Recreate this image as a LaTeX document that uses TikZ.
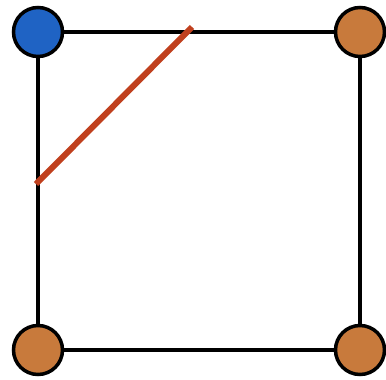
\documentclass[tikz,border=0pt]{standalone}
\definecolor{vblue}{RGB}{31,99,196}
\definecolor{vorange}{RGB}{200,122,60}
\definecolor{cutred}{RGB}{192,64,30}
\tikzset{vertex/.style={circle,draw=black,line width=3.5pt,minimum size=49pt,inner sep=0pt}}
\begin{document}
\begin{tikzpicture}
    [x=1pt,y=-1pt]
    \useasboundingbox (0,0) rectangle (386,380);
    %vertices
    \node[vertex,fill=vblue] (tl) at (38,32) {};
    \node[vertex,fill=vorange] (tr) at (360,32) {};
    \node[vertex,fill=vorange] (bl) at (38,350) {};
    \node[vertex,fill=vorange] (br) at (360,350) {};
    %edges
    \draw[line width=3.5pt] (tl)--(tr);
    \draw[line width=3.5pt] (tr)--(br);
    \draw[line width=3.5pt] (br)--(bl);
    \draw[line width=3.5pt] (bl)--(tl);
    %cut
    \coordinate (c1) at (36,184);
    \coordinate (c2) at (192,27);
    \draw[cutred,line width=6pt] (c1)--(c2);
\end{tikzpicture}
\end{document}
